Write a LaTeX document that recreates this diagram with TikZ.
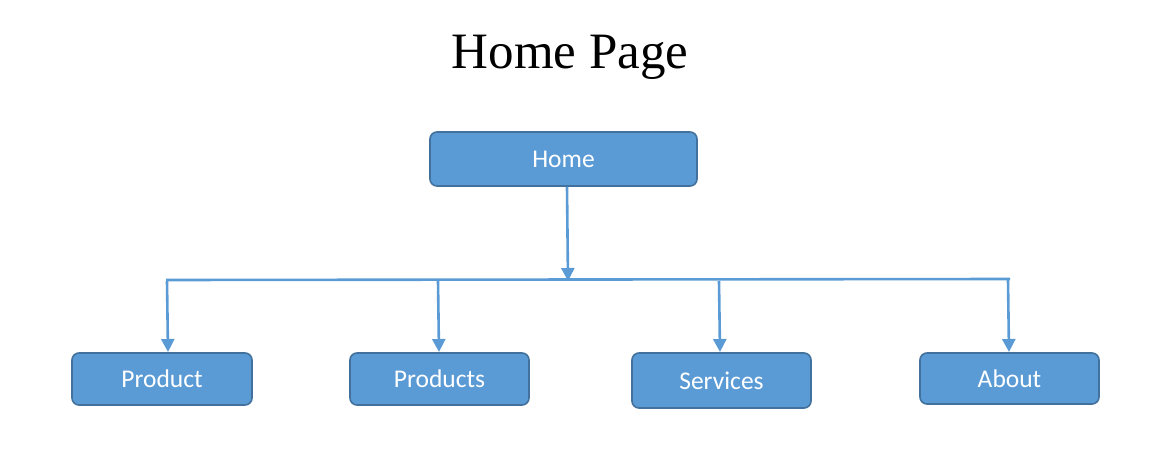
\documentclass[tikz,border=0pt]{standalone}
\usepackage{fontspec}
\setmainfont{Liberation Serif}
\newfontfamily\boxfont{Carlito}
\usetikzlibrary{arrows.meta}
\definecolor{boxfill}{HTML}{5B9BD5}
\definecolor{boxedge}{HTML}{41719C}
\definecolor{linkcol}{HTML}{5B9BD5}
\begin{document}
\begin{tikzpicture}[x=1pt,y=-1pt,
  pagebox/.style={draw=boxedge, line width=1.6pt, fill=boxfill, rounded corners=7pt,
    inner sep=0pt, text=white, font=\boxfont\fontsize{25.5}{30}\selectfont},
  link/.style={draw=linkcol, line width=2.6pt},
  arrowlink/.style={link, -{Triangle[width=13pt,length=13pt]}}]
\useasboundingbox (0,0) rectangle (1157,455);
\node[font=\fontsize{51}{60}\selectfont, anchor=base] (title) at (570,68) {Home Page};
\node[pagebox, minimum width=267pt, minimum height=54pt] (home) at (563.5,159) {Home};
\node[pagebox, minimum width=180pt, minimum height=52pt] (product) at (162,379) {Product};
\node[pagebox, minimum width=179pt, minimum height=52pt] (products) at (439.5,379) {Products};
\node[pagebox, minimum width=179pt, minimum height=55pt] (services) at (721.5,380.5) {Services};
\node[pagebox, minimum width=179pt, minimum height=51pt] (about) at (1009.5,378.5) {About};
\coordinate (left) at (166,280);
\coordinate (right) at (1010,279);
\coordinate (mid) at (568,281);
\coordinate (b1) at (167,281);
\coordinate (b2) at (438,281);
\coordinate (b3) at (719,281);
\coordinate (b4) at (1008,280);
\draw[link] (left) -- (right);
\draw[arrowlink] (home.south -| 567,0) -- (mid);
\draw[arrowlink] (b1) -- (168,352);
\draw[arrowlink] (b2) -- (439,352);
\draw[arrowlink] (b3) -- (720,352);
\draw[arrowlink] (b4) -- (1009,352);
\end{tikzpicture}
\end{document}
